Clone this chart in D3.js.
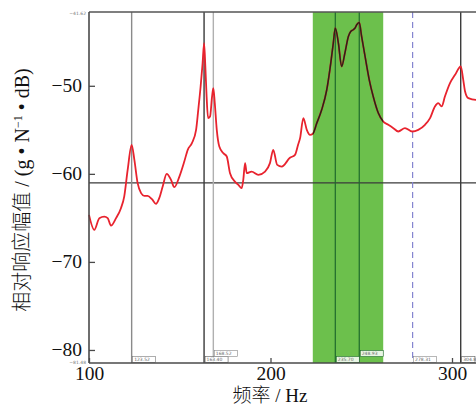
<!DOCTYPE html>
<html>
<head>
<meta charset="utf-8">
<script src="https://cdn.jsdelivr.net/npm/d3@7"></script>
<style>
  body { margin: 0; background: #fff; }
  svg { display: block; }
</style>
</head>
<body>
<svg id="chart" width="476" height="408"></svg>
<script>
// ── Data ──
const freqs = [100, 102.9, 105.7, 108.4, 110.3, 112.1, 114.9, 117.6, 119.4, 121.3, 123.5, 125.0, 126.8,
  128.7, 130.5, 132.3, 134.7, 136.9, 138.7, 140.6, 142.8, 145.2, 147.0, 149.8, 152.5, 154.4, 156.7,
  159.0, 160.2, 161.5, 162.6, 163.4, 164.1, 164.8, 165.6, 166.7, 167.8, 168.5, 169.3, 170.4, 171.8,
  174.0, 175.9, 177.7, 180.4, 182.3, 184.1, 185.0, 186.0, 186.9, 189.6, 193.3, 197.0, 199.7, 201.5,
  203.7, 206.2, 210.7, 213.5, 215.2, 216.3, 218.1, 220.0, 221.8, 223.3, 225.5, 228.2, 231.0, 233.2,
  234.6, 235.7, 237.4, 239.2, 241.0, 242.9, 244.2, 245.6, 246.6, 247.5, 248.9, 250.2, 252.1, 254.4,
  256.6, 259.4, 262.1, 264.9, 267.7, 270.4, 274.1, 278.1, 281.4, 285.1, 287.9, 290.6, 292.4, 294.3,
  296.1, 298.9, 301.7, 304.8, 306.2, 307.2, 309.0, 313.2, 318.2];
const levels = [-64.66, -66.36, -65.03, -64.85, -65.03, -65.88, -65.03, -63.9, -62.58, -59.55, -56.7,
  -58.41, -61.06, -62.19, -62.5, -62.5, -62.88, -63.41, -62.76, -61.44, -60.0, -60.68, -61.51, -60.31,
  -58.6, -57.27, -56.51, -55.0, -52.73, -50.08, -47.42, -45.15, -47.81, -51.22, -53.67, -53.49, -51.22,
  -50.26, -51.97, -55.0, -56.9, -57.65, -58.03, -59.92, -60.88, -61.25, -61.63, -60.68, -58.78, -59.92,
  -59.74, -60.11, -59.74, -58.78, -57.27, -58.98, -59.17, -58.18, -57.84, -56.7, -55.94, -53.67, -55.0,
  -55.57, -55.45, -54.24, -52.73, -50.45, -47.42, -45.15, -43.44, -45.15, -47.81, -46.28, -44.4, -43.83,
  -43.64, -43.44, -43.07, -42.81, -44.4, -46.67, -49.32, -51.22, -53.1, -54.06, -54.43, -54.81, -55.19,
  -54.81, -55.19, -55.0, -54.43, -53.67, -52.34, -51.97, -52.34, -51.22, -49.7, -48.75, -47.81, -49.32,
  -50.65, -51.4, -51.59, -51.6];

const cursorFreqs = [123.5, 163.4, 168.5, 235.7, 248.9, 278.3, 304.8];
const cursorLabels = ["123.52", "163.40", "168.52", "235.70", "248.93", "278.31", "304.84"];
const cursorKinds = ["gray", "dark", "light", "band", "band", "dashed", "dark"];
const bandRange = [223.3, 262.1];
const refLevel = -61.02;

const xTicks = [100, 200, 300];
const yTicks = [-50, -60, -70, -80];
const xDomain = [100, 320];
const yDomain = [-81.48, -41.62];
const yTopLabel = "−41.62";
const yBottomLabel = "−81.48";

// ── Layout ──
const W = 476, H = 408;
const margin = { left: 89, top: 12, bottom: 45 };
const plotBottom = H - margin.bottom;

const x = d3.scaleLinear().domain(xDomain).range([margin.left, margin.left + (xDomain[1] - xDomain[0]) * 1.815]);
const y = d3.scaleLinear().domain(yDomain).range([plotBottom, margin.top]);

const svg = d3.select("#chart");

const cursorStyle = {
  gray:   { stroke: "#8a8a8a", width: 1.4, dash: null, box: "#777" },
  dark:   { stroke: "#3a3a3a", width: 1.4, dash: null, box: "#555" },
  light:  { stroke: "#b0b0b0", width: 1.4, dash: null, box: "#888" },
  band:   { stroke: "#1f6a2c", width: 1.2, dash: null, box: "#1f6a2c" },
  dashed: { stroke: "#8585d0", width: 1.2, dash: "6,4", box: "#888" },
};

// ── Green band ──
svg.append("rect")
  .attr("x", x(bandRange[0]))
  .attr("y", margin.top)
  .attr("width", x(bandRange[1]) - x(bandRange[0]))
  .attr("height", plotBottom - margin.top)
  .attr("fill", "#6cc04c");

// ── Horizontal reference cursor ──
svg.append("line")
  .attr("x1", margin.left).attr("x2", W)
  .attr("y1", y(refLevel)).attr("y2", y(refLevel))
  .attr("stroke", "#3a3a3a").attr("stroke-width", 1.2);

// ── Vertical cursors ──
svg.append("g").selectAll("line")
  .data(cursorFreqs)
  .join("line")
  .attr("x1", d => x(d)).attr("x2", d => x(d))
  .attr("y1", margin.top).attr("y2", plotBottom)
  .attr("stroke", (d, i) => cursorStyle[cursorKinds[i]].stroke)
  .attr("stroke-width", (d, i) => cursorStyle[cursorKinds[i]].width)
  .attr("stroke-dasharray", (d, i) => cursorStyle[cursorKinds[i]].dash);

// ── Response curve ──
const pts = freqs.map((f, i) => [f, levels[i]]);
const line = d3.line().x(d => x(d[0])).y(d => y(d[1])).curve(d3.curveMonotoneX);

svg.append("defs").append("clipPath").attr("id", "bandClip")
  .append("rect")
  .attr("x", x(bandRange[0])).attr("y", 0)
  .attr("width", x(bandRange[1]) - x(bandRange[0])).attr("height", H);

svg.append("path")
  .datum(pts)
  .attr("d", line)
  .attr("fill", "none")
  .attr("stroke", "#e8232e")
  .attr("stroke-width", 1.8)
  .attr("stroke-linejoin", "round");

svg.append("path")
  .datum(pts)
  .attr("d", line)
  .attr("clip-path", "url(#bandClip)")
  .attr("fill", "none")
  .attr("stroke", "#2a2616")
  .attr("stroke-width", 1.5);

// ── Cursor value boxes at the bottom (raise a box when it sits close to the previous one) ──
const boxG = svg.append("g");
cursorFreqs.forEach((f, i) => {
  const raised = i > 0 && f - cursorFreqs[i - 1] < 14;
  const bx = x(f) + 1, by = plotBottom - (raised ? 12.5 : 6.5);
  const st = cursorStyle[cursorKinds[i]];
  const w = Math.min(23, W - 1 - bx);
  boxG.append("rect")
    .attr("x", bx).attr("y", by).attr("width", w).attr("height", 6)
    .attr("fill", "#fff").attr("fill-opacity", 0.85)
    .attr("stroke", st.box).attr("stroke-width", 0.6);
  boxG.append("text")
    .attr("x", bx + 1.5).attr("y", by + 4.8)
    .attr("font-family", "DejaVu Sans")
    .attr("font-size", 4.5)
    .attr("fill", "#666")
    .text(cursorLabels[i]);
});

// ── Frame and axes ──
svg.append("line")
  .attr("x1", margin.left).attr("x2", W)
  .attr("y1", margin.top).attr("y2", margin.top)
  .attr("stroke", "#555").attr("stroke-width", 1.4);

const yAxis = svg.append("g")
  .attr("transform", `translate(${margin.left},0)`)
  .call(d3.axisLeft(y).tickValues(yTicks).tickFormat(d3.format("d")).tickSizeInner(-6).tickSizeOuter(0).tickPadding(7));

const xAxis = svg.append("g")
  .attr("transform", `translate(0,${plotBottom})`)
  .call(d3.axisBottom(x).tickValues(xTicks).tickFormat(d3.format("d")).tickSizeInner(-5).tickSizeOuter(0).tickPadding(3));

[yAxis, xAxis].forEach(g => {
  g.select(".domain").attr("stroke", "#4a4a4a").attr("stroke-width", 1.6);
  g.selectAll(".tick line").attr("stroke", "#4a4a4a").attr("stroke-width", 1.3);
  g.selectAll(".tick text")
    .attr("fill", "#111")
    .attr("font-family", "Liberation Serif, Times New Roman, serif")
    .attr("font-size", 19.5);
});
yAxis.selectAll(".tick text").attr("dy", "0.28em");
xAxis.select(".domain").attr("d", `M${margin.left},0H${W}`);
yAxis.select(".domain").attr("d", `M0,${margin.top}V${plotBottom}`);

// tiny scale-limit labels at the corners
svg.append("text")
  .attr("x", margin.left - 3).attr("y", margin.top + 3)
  .attr("text-anchor", "end")
  .attr("font-family", "DejaVu Sans").attr("font-size", 4.5).attr("fill", "#777")
  .text(yTopLabel);
svg.append("text")
  .attr("x", margin.left - 3).attr("y", plotBottom + 1)
  .attr("text-anchor", "end")
  .attr("font-family", "DejaVu Sans").attr("font-size", 4.5).attr("fill", "#777")
  .text(yBottomLabel);

// ── Axis titles ──
const cjk = "Noto Sans CJK SC";
const serif = "Liberation Serif, serif";

const xt = svg.append("text")
  .attr("x", 270).attr("y", 402)
  .attr("text-anchor", "middle")
  .attr("font-size", 19).attr("fill", "#111");
xt.append("tspan").attr("font-family", cjk).attr("font-weight", 300).text("频率");
xt.append("tspan").attr("font-family", serif).text(" / Hz");

const yt = svg.append("text")
  .attr("transform", "translate(29,190) rotate(-90)")
  .attr("text-anchor", "middle")
  .attr("font-size", 20).attr("fill", "#111");
yt.append("tspan").attr("font-family", cjk).attr("font-weight", 300).text("相对响应幅值");
yt.append("tspan").attr("font-family", serif).text(" / (g • N");
yt.append("tspan").attr("font-family", serif).attr("font-size", 12).attr("dy", -7).text("−1");
yt.append("tspan").attr("font-family", serif).attr("dy", 7).text(" • dB)");
</script>
</body>
</html>
